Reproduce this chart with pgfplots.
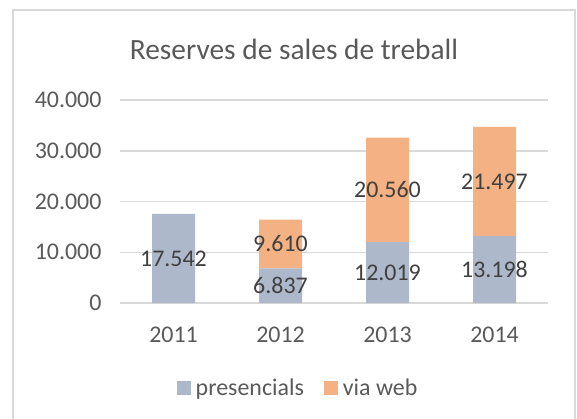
\documentclass[border=0pt]{standalone}
\usepackage{pgfplots}
\usepackage{pgfplotstable}
\pgfplotsset{compat=1.18}
\usepackage{fontspec}
\setmainfont{Carlito}
\definecolor{pres}{HTML}{ADB9CA}
\definecolor{web}{HTML}{F4B183}
\definecolor{ticktxt}{HTML}{595959}
\definecolor{labtxt}{HTML}{404040}
\definecolor{gridc}{HTML}{D9D9D9}
\pgfplotstableread{
x p w
0 17542 0
1 6837 9610
2 12019 20560
3 13198 21497
}\data
\begin{document}
\begin{tikzpicture}[x=1bp,y=1bp]
\useasboundingbox (0,0) rectangle (577,418);
\draw[gridc, line width=1.5bp] (13,-5) -- (13,408) -- (575,408) -- (575,-5);
\node[font=\fontsize{29.5}{34}\selectfont, text=ticktxt] at (294,369) {Reserves de sales de treball};
\begin{axis}[
  at={(120bp,115bp)}, anchor=south west,
  width=428bp, height=203bp, scale only axis,
  xmin=-0.5, xmax=3.5, ymin=0, ymax=40000,
  ybar stacked, bar width=43bp,
  xtick={0,1,2,3}, xticklabels={2011,2012,2013,2014},
  ytick={0,10000,20000,30000,40000},
  ymajorgrids, grid style={gridc, line width=1.5bp},
  axis line style={draw=none},
  major tick length=0pt,
  tick label style={font=\fontsize{24}{28}\selectfont, text=ticktxt},
  yticklabel style={xshift=-15bp},
  xticklabel style={yshift=-20bp},
  /pgf/number format/.cd, 1000 sep={.}, assume math mode=true, /pgfplots/.cd,
  scaled y ticks=false,
  point meta min=0, point meta max=40000,
  nodes near coords={\ifdim\pgfplotspointmetatransformed pt>0pt \pgfmathprintnumber{\pgfplotspointmeta}\fi},
  every node near coord/.append style={anchor=center, font=\fontsize{24}{28}\selectfont, text=labtxt},
  legend columns=2,
  legend style={draw=none, fill=none, at={(axis description cs:0.416,-0.4187)}, anchor=center,
    font=\fontsize{24}{28}\selectfont, text=ticktxt,
    /tikz/every odd column/.append style={column sep=3bp},
    /tikz/every even column/.append style={column sep=18bp}},
  legend image code/.code={\draw[#1, draw=none] (0bp,-7bp) rectangle (14bp,7bp);},
]
\addplot[fill=pres, draw=none, point meta=explicit] table[x=x, y=p, meta=p] {\data};
\addplot[fill=web, draw=none, point meta=explicit] table[x=x, y=w, meta=w] {\data};
\legend{presencials, via web}
\end{axis}
\end{tikzpicture}
\end{document}
